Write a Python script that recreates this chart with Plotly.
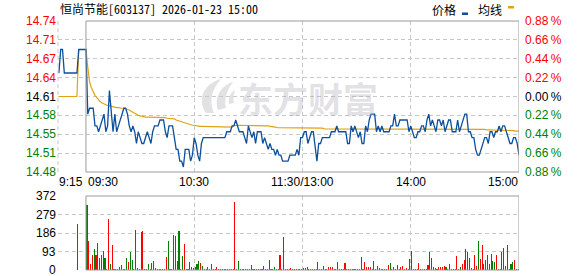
import plotly.graph_objects as go
import pandas as pd

# ---------------- data ----------------
TITLE = "恒尚节能[603137] 2026-01-23 15:00"
PRE_CLOSE = 14.61

price_tick_labels = ["14.74", "14.71", "14.67", "14.64", "14.61", "14.58", "14.55", "14.51", "14.48"]
pct_tick_labels = ["0.88%", "0.66%", "0.44%", "0.22%", "0.00%", "0.22%", "0.44%", "0.66%", "0.88%"]
pct_steps = [4, 3, 2, 1, 0, -1, -2, -3, -4]          # multiples of 0.22 %
vol_tick_values = [372, 279, 186, 93, 0]
time_labels = ["9:15", "09:30", "10:30", "11:30/13:00", "14:00", "15:00"]

# call auction (09:15 - 09:29)
pre_times = ["09:15", "09:16", "09:17", "09:18", "09:19", "09:20", "09:21", "09:22",
             "09:23", "09:24", "09:25", "09:26", "09:27", "09:28", "09:29"]
pre_price = [14.65, 14.69, 14.69, 14.65, 14.65, 14.65, 14.65, 14.65,
             14.65, 14.65, 14.65, 14.69, 14.69, 14.69, 14.69]
pre_avg = [14.61, 14.61, 14.61, 14.61, 14.61, 14.61, 14.61, 14.61,
           14.61, 14.61, 14.61, 14.69, 14.69, 14.69, 14.69]
auction_time = "09:25"
auction_volume = 231

# continuous session, one value per minute 09:30..11:30, 13:01..15:00
price = [
    14.69, 14.58, 14.59, 14.59, 14.59, 14.56, 14.56, 14.55, 14.56, 14.57,
    14.58, 14.55, 14.56, 14.62, 14.58, 14.55, 14.58, 14.55, 14.56, 14.57,
    14.58, 14.59, 14.59, 14.58, 14.56, 14.55, 14.56, 14.55, 14.53, 14.55,
    14.54, 14.53, 14.53, 14.54, 14.55, 14.54, 14.53, 14.55, 14.56, 14.56,
    14.56, 14.57, 14.57, 14.57, 14.55, 14.54, 14.56, 14.56, 14.56, 14.54,
    14.52, 14.52, 14.50, 14.50, 14.49, 14.52, 14.52, 14.52, 14.50, 14.51,
    14.54, 14.53, 14.51, 14.50, 14.53, 14.54, 14.54, 14.54, 14.54, 14.54,
    14.54, 14.54, 14.54, 14.54, 14.54, 14.54, 14.54, 14.54, 14.55, 14.55,
    14.55, 14.56, 14.56, 14.57, 14.56, 14.55, 14.55, 14.55, 14.54, 14.53,
    14.56, 14.55, 14.54, 14.55, 14.53, 14.55, 14.55, 14.55, 14.53, 14.54,
    14.53, 14.52, 14.53, 14.52, 14.52, 14.51, 14.52, 14.51, 14.51, 14.50,
    14.50, 14.50, 14.50, 14.51, 14.51, 14.51, 14.51, 14.52, 14.51, 14.54,
    14.54, 14.55, 14.55, 14.53, 14.54, 14.55, 14.55, 14.52, 14.50, 14.53,
    14.53, 14.54, 14.54, 14.54, 14.54, 14.54, 14.55, 14.55, 14.55, 14.56,
    14.55, 14.55, 14.55, 14.55, 14.55, 14.53, 14.53, 14.56, 14.55, 14.56,
    14.55, 14.54, 14.55, 14.53, 14.53, 14.56, 14.55, 14.57, 14.58, 14.58,
    14.58, 14.55, 14.56, 14.55, 14.56, 14.55, 14.55, 14.55, 14.55, 14.56,
    14.56, 14.58, 14.56, 14.56, 14.57, 14.57, 14.57, 14.57, 14.57, 14.55,
    14.56, 14.55, 14.54, 14.54, 14.55, 14.55, 14.56, 14.56, 14.55, 14.57,
    14.58, 14.56, 14.57, 14.56, 14.55, 14.57, 14.57, 14.56, 14.57, 14.55,
    14.56, 14.57, 14.57, 14.55, 14.55, 14.55, 14.57, 14.55, 14.56, 14.57,
    14.58, 14.58, 14.55, 14.55, 14.54, 14.54, 14.52, 14.51, 14.51, 14.52,
    14.53, 14.54, 14.54, 14.53, 14.55, 14.55, 14.54, 14.55, 14.55, 14.56,
    14.55, 14.56, 14.56, 14.55, 14.54, 14.53, 14.53, 14.54, 14.54, 14.53,
    14.51,
]

avg_price = [
    14.690, 14.660, 14.635, 14.625, 14.618, 14.612, 14.608, 14.604, 14.601, 14.599,
    14.597, 14.596, 14.595, 14.594, 14.593, 14.592, 14.592, 14.591, 14.591, 14.590,
    14.590, 14.590, 14.589, 14.589, 14.587, 14.585, 14.583, 14.581, 14.579, 14.578,
    14.577, 14.576, 14.576, 14.575, 14.575, 14.575, 14.575, 14.575, 14.575, 14.575,
    14.574, 14.574, 14.574, 14.574, 14.574, 14.573, 14.573, 14.573, 14.572, 14.572,
    14.570, 14.569, 14.567, 14.566, 14.565, 14.564, 14.563, 14.563, 14.562, 14.561,
    14.561, 14.560, 14.560, 14.559, 14.559, 14.559, 14.558, 14.558, 14.558, 14.558,
    14.558, 14.558, 14.558, 14.558, 14.558, 14.558, 14.558, 14.558, 14.558, 14.558,
    14.558, 14.558, 14.561, 14.561, 14.561, 14.561, 14.561, 14.561, 14.561, 14.561,
    14.561, 14.561, 14.561, 14.561, 14.561, 14.561, 14.561, 14.561, 14.561, 14.561,
    14.560, 14.560, 14.559, 14.559, 14.558, 14.558, 14.557, 14.557, 14.556, 14.556,
    14.556, 14.556, 14.556, 14.556, 14.556, 14.556, 14.556, 14.556, 14.556, 14.556,
    14.556, 14.556, 14.556, 14.556, 14.556, 14.556, 14.556, 14.556, 14.556, 14.556,
    14.556, 14.556, 14.555, 14.555, 14.555, 14.555, 14.555, 14.555, 14.555, 14.555,
    14.555, 14.555, 14.555, 14.555, 14.555, 14.555, 14.555, 14.555, 14.555, 14.555,
    14.555, 14.555, 14.555, 14.555, 14.555, 14.555, 14.555, 14.555, 14.555, 14.555,
    14.555, 14.555, 14.555, 14.555, 14.555, 14.555, 14.555, 14.555, 14.555, 14.555,
    14.555, 14.555, 14.555, 14.555, 14.555, 14.555, 14.555, 14.555, 14.555, 14.555,
    14.555, 14.555, 14.555, 14.555, 14.555, 14.555, 14.555, 14.555, 14.555, 14.555,
    14.555, 14.555, 14.555, 14.555, 14.555, 14.555, 14.555, 14.555, 14.555, 14.555,
    14.555, 14.555, 14.555, 14.555, 14.555, 14.555, 14.555, 14.555, 14.555, 14.555,
    14.555, 14.554, 14.554, 14.554, 14.554, 14.554, 14.554, 14.554, 14.554, 14.554,
    14.554, 14.554, 14.553, 14.553, 14.553, 14.553, 14.553, 14.553, 14.553, 14.553,
    14.553, 14.553, 14.553, 14.553, 14.553, 14.552, 14.552, 14.552, 14.551, 14.551,
    14.551,
]

volume = [
    327, 146, 30, 75, 106, 75, 136, 60, 75, 96,
    60, 5, 256, 30, 126, 5, 5, 5, 17, 25,
    5, 5, 60, 40, 90, 50, 5, 201, 8, 5,
    191, 196, 5, 5, 30, 5, 35, 45, 10, 5,
    5, 5, 3, 5, 65, 146, 5, 5, 176, 171,
    45, 196, 5, 70, 131, 5, 5, 40, 15, 10,
    15, 30, 45, 35, 20, 5, 5, 15, 5, 30,
    5, 3, 15, 5, 5, 5, 5, 5, 5, 5,
    5, 5, 342, 5, 45, 3, 5, 5, 5, 5,
    5, 25, 5, 5, 5, 5, 5, 5, 20, 5,
    5, 50, 5, 5, 15, 5, 5, 75, 5, 166,
    5, 5, 5, 10, 5, 5, 5, 5, 5, 5,
    10, 10, 15, 5, 3, 3, 5, 5, 40, 5,
    3, 20, 5, 5, 15, 15, 15, 5, 3, 40,
    5, 5, 5, 35, 3, 3, 5, 5, 5, 5,
    5, 5, 65, 5, 40, 15, 15, 15, 5, 45,
    5, 20, 8, 5, 5, 5, 5, 25, 35, 5,
    15, 5, 25, 5, 15, 20, 5, 10, 5, 55,
    96, 5, 5, 5, 35, 5, 5, 5, 5, 25,
    90, 60, 15, 10, 5, 15, 15, 15, 20, 15,
    5, 30, 5, 5, 5, 70, 5, 15, 30, 50,
    106, 90, 60, 10, 5, 75, 20, 146, 55, 126,
    30, 50, 75, 30, 80, 45, 40, 75, 5, 5,
    90, 110, 20, 126, 5, 30, 40, 50, 5, 5,
    181,
]

# R = buy-side (up) bar, G = sell-side (down) bar
volume_side = list(
    "GRRRGRRGRR" "GRRGRRRRRR" "RRGRGGRGRR" "GRRRGRRRRR" "RRRGRGRRRG"
    "RGRGRRRGRR" "RGGRGRRRRR" "RRRRRRRRRR" "RRRRGRRRGR" "RGRRRRRRGR"
    "RRGRGRRRRR" "RRRRRRRRRR" "RRRRRRRRGR" "RRRRRRRRRR" "RRRRRRRRRR"
    "RRGRRRRRRR" "RGRRRRRRGR" "RRGRRRRRRG" "RRRRRRRRRR" "RGRRRRRRRG"
    "RRRRRRRGRR" "RRGRRRRGRR" "GGRGRGGRRR" "RGRRRGGRRR" "G"
)

# ---------------- helpers ----------------
am = pd.date_range("2026-01-23 09:30", "2026-01-23 11:30", freq="min")
pm = pd.date_range("2026-01-23 13:01", "2026-01-23 15:00", freq="min")
session_times = [t.strftime("%H:%M") for t in am.append(pm)]
assert len(session_times) == len(price) == len(avg_price) == len(volume) == len(volume_side) == 241


def pos(hhmm):
    h, m = map(int, hhmm.split(":"))
    minutes = h * 60 + m
    if minutes <= 11 * 60 + 30:
        return minutes - (9 * 60 + 30)
    return minutes - 13 * 60 + 120


RED = "#ff0000"
GREEN = "#008000"
BLUE = "#0b4f9e"
GOLD = "#e0a214"
GRID = "#c8c8c8"
BORDER = "#9a9a9a"
WM = "rgba(165,165,175,0.32)"
NUM_FONT = "Liberation Sans, Arial, sans-serif"
CJK_FONT = "Noto Sans Mono CJK SC, Noto Sans CJK SC, sans-serif"

W, H = 578, 276
L, R, T, B = 58, 519, 21, 270          # plot area in pixels


def fx(px):
    return (px - L) / (R - L)


def fy(py):
    return (B - py) / (B - T)


def pix_path(cmds):
    out = []
    for c in cmds:
        if isinstance(c, str):
            out.append(c)
        else:
            out.append(f"{fx(c[0]):.5f},{fy(c[1]):.5f}")
    return " ".join(out)


price_lo = PRE_CLOSE * (1 - 0.0088)
price_hi = PRE_CLOSE * (1 + 0.0088)
price_ticks = [PRE_CLOSE * (1 + 0.0022 * k) for k in pct_steps]

x_pre = [pos(t) for t in pre_times]
x_main = [pos(t) for t in session_times]

fig = go.Figure()
fig.add_trace(go.Scatter(x=x_pre + x_main, y=pre_avg + avg_price, mode="lines",
                         line=dict(color=GOLD, width=1.2), xaxis="x", yaxis="y",
                         hoverinfo="skip"))
fig.add_trace(go.Scatter(x=x_pre + x_main, y=pre_price + price, mode="lines",
                         line=dict(color=BLUE, width=1.3), xaxis="x", yaxis="y",
                         hoverinfo="skip"))
bar_colors = [RED] + [RED if s == "R" else GREEN for s in volume_side]
fig.add_trace(go.Bar(x=[pos(auction_time)] + x_main, y=[auction_volume] + volume,
                     marker=dict(color=bar_colors, line=dict(width=0)),
                     width=0.6, offset=0.25, xaxis="x2", yaxis="y2", hoverinfo="skip"))

grid_common = dict(showgrid=True, gridcolor=GRID, gridwidth=1, griddash="4px,3px",
                   zeroline=False, showticklabels=False, ticks="", showline=False)
fig.update_layout(
    width=W, height=H, autosize=False,
    margin=dict(l=L, r=W - R, t=T, b=H - B, pad=0),
    paper_bgcolor="white", plot_bgcolor="white", showlegend=False, bargap=0,
    xaxis=dict(domain=[0, 1], range=[-15.5, 240], tickvals=[60, 120, 180],
               anchor="y", **grid_common),
    xaxis2=dict(domain=[0, 1], range=[-15.5, 240], tickvals=[60, 120, 180],
                anchor="y2", matches="x", **grid_common),
    yaxis=dict(domain=[fy(172), 1], range=[price_lo - 1e-7, price_hi + 1e-7],
               tickvals=price_ticks, anchor="x", **grid_common),
    yaxis2=dict(domain=[0, fy(196)], range=[-0.01, 372.01],
                tickvals=vol_tick_values, anchor="x2", **grid_common),
)

shapes = [
    # watermark logo (drawn below the data)
    dict(type="path", xref="paper", yref="paper", layer="below", fillcolor=WM, line=dict(width=0),
         path=pix_path(["M", (206, 113), "C", (197, 100), (203, 84), (221, 79),
                        "C", (211, 90), (209, 102), (214, 113), "Z"])),
    dict(type="path", xref="paper", yref="paper", layer="below", fillcolor=WM, line=dict(width=0),
         path=pix_path(["M", (218, 110), "C", (214, 98), (220, 86), (233, 82),
                        "C", (226, 91), (224, 101), (226, 108), "Z"])),
    dict(type="path", xref="paper", yref="paper", layer="below", fillcolor=WM, line=dict(width=0),
         path=pix_path(["M", (229, 104), "C", (228, 97), (231, 92), (235, 90),
                        "C", (233, 95), (233, 99), (234, 103), "Z"])),
    dict(type="rect", xref="x", x0=0, x1=240, yref="y domain", y0=0, y1=1,
         line=dict(color=BORDER, width=1), layer="above"),
    dict(type="rect", xref="x2", x0=0, x1=240, yref="y2 domain", y0=0, y1=1,
         line=dict(color=BORDER, width=1), layer="above"),
    dict(type="line", xref="x domain", x0=0, x1=0, yref="y domain", y0=0, y1=1,
         line=dict(color=GRID, width=1, dash="4px,3px")),
    # legend swatches
    dict(type="rect", xref="paper", yref="paper", x0=fx(462), x1=fx(468), y0=fy(15), y1=fy(12.5),
         fillcolor=BLUE, line=dict(width=0)),
    dict(type="rect", xref="paper", yref="paper", x0=fx(508), x1=fx(514), y0=fy(8.5), y1=fy(6),
         fillcolor=GOLD, line=dict(width=0)),
]

ann = []


def add_text(text, x, y, xref="paper", yref="paper", xanchor="left", yanchor="middle",
             color="black", size=12, family=NUM_FONT):
    ann.append(dict(text=text, x=x, y=y, xref=xref, yref=yref, xanchor=xanchor,
                    yanchor=yanchor, showarrow=False, borderpad=0,
                    font=dict(color=color, size=size, family=family)))


for k, v, lab, pct in zip(pct_steps, price_ticks, price_tick_labels, pct_tick_labels):
    c = RED if k > 0 else (GREEN if k < 0 else "black")
    add_text(lab, fx(56.5), v, yref="y", xanchor="right", color=c)
    add_text(pct.replace("%", "\u2009%"), fx(523.5), v, yref="y", xanchor="left", color=c)

for v in vol_tick_values:
    add_text(str(v), fx(56.5), v, yref="y2", xanchor="right")

ty = fy(182)
add_text(time_labels[0], fx(57.5), ty, xanchor="left")
add_text(time_labels[1], fx(86.5), ty, xanchor="left")
add_text(time_labels[2], 60, ty, xref="x", xanchor="center")
add_text(time_labels[3], 120, ty, xref="x", xanchor="center")
add_text(time_labels[4], 180, ty, xref="x", xanchor="center")
add_text(time_labels[5], 240, ty, xref="x", xanchor="right")

add_text(TITLE, fx(58.5), fy(8.5), family=CJK_FONT)
add_text("价格", fx(431), fy(9), family=CJK_FONT)
add_text("均线", fx(477), fy(9), family=CJK_FONT)

# watermark text
ann.append(dict(text="<b>东方财富</b>", x=fx(308), y=fy(97), xref="paper", yref="paper",
                xanchor="center", yanchor="middle", showarrow=False,
                font=dict(size=35, color=WM, family="Noto Sans CJK SC, sans-serif")))

fig.update_layout(shapes=shapes, annotations=ann)
fig.write_html("out.html", config={"displayModeBar": False, "staticPlot": True})
